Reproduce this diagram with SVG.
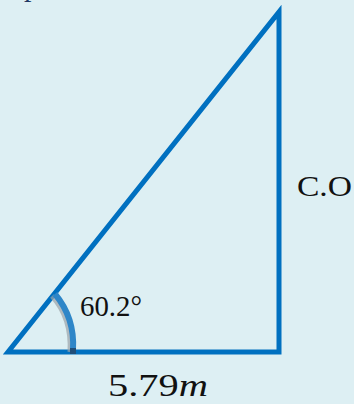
<svg xmlns="http://www.w3.org/2000/svg" width="354" height="404" viewBox="0 0 354 404">
<style>
.lbl{font-family:"Liberation Serif","DejaVu Serif",serif;fill:#111}
.tri{fill:none;stroke:#0070C0;stroke-width:5;stroke-linejoin:miter;stroke-miterlimit:10}
</style>
<rect width="354" height="404" fill="#DDEFF3"/>
<text x="24" y="-4" class="lbl" style="fill:#1F3864" font-size="30">p</text>
<g id="connectors">
<polygon id="triangle" class="tri" points="8,352 279,352 279,12"/>
</g>
<g id="angle">
<path d="M52,296 Q72,318 70,352" fill="none" stroke="#9AA3A8" stroke-width="5" opacity="0.7"/>
<path d="M55,294 Q75,318 73,350" fill="none" stroke="#2E86C8" stroke-width="6"/>
<rect x="70" y="348" width="6" height="6" fill="#1F4E79"/>
<text x="80" y="316" class="lbl" font-size="29" textLength="62" lengthAdjust="spacingAndGlyphs">60.2°</text>
</g>
<g id="side-co">
<text x="297" y="196" class="lbl" font-size="30" textLength="55" lengthAdjust="spacingAndGlyphs">C.O</text>
</g>
<g id="side-base">
<text x="108" y="396" class="lbl" font-size="32" textLength="100" lengthAdjust="spacingAndGlyphs">5.79<tspan font-style="italic">m</tspan></text>
</g>
</svg>
